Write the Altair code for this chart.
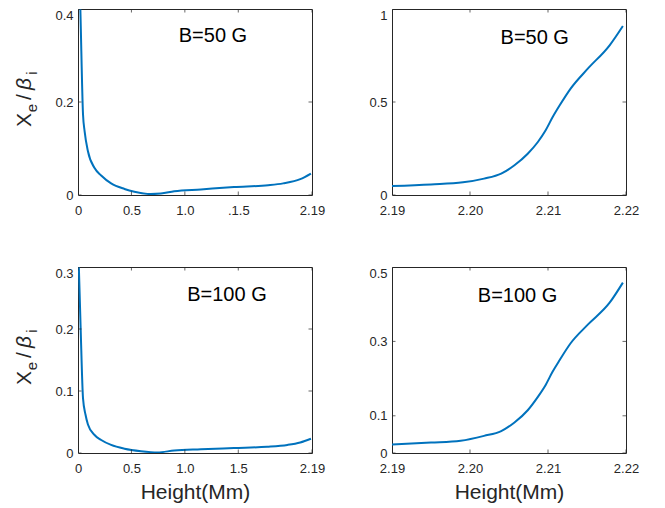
import altair as alt
import pandas as pd

# ---------------- data ----------------
# B = 50 G, full height range (Mm) and Xe/beta_i
h50_low = [0.000, 0.010, 0.022, 0.047, 0.062, 0.093, 0.155, 0.217, 0.310, 0.435,
           0.528, 0.680, 0.776, 0.900, 1.150, 1.460, 1.780, 1.920, 2.080, 2.180]
r50_low = [0.60, 0.50, 0.40, 0.173, 0.137, 0.094, 0.058, 0.042, 0.025, 0.013,
           0.007, 0.002, 0.003, 0.008, 0.012, 0.017, 0.021, 0.025, 0.034, 0.046]

# B = 50 G, upper layer 2.19-2.22 Mm
h50_high = [2.1900, 2.1950, 2.1991, 2.2018, 2.2040, 2.2057, 2.2074, 2.2087, 2.2097,
            2.2106, 2.2115, 2.2129, 2.2151, 2.2179, 2.2196]
r50_high = [0.048, 0.057, 0.068, 0.088, 0.115, 0.160, 0.222, 0.285, 0.348,
            0.419, 0.482, 0.572, 0.679, 0.805, 0.909]

# B = 100 G, full height range
h100_low = [0.000, 0.003, 0.008, 0.025, 0.047, 0.070, 0.093, 0.155, 0.217, 0.310,
            0.435, 0.590, 0.745, 0.900, 1.150, 1.460, 1.770, 1.960, 2.080, 2.180]
r100_low = [0.40, 0.33, 0.30, 0.20, 0.088, 0.062, 0.046, 0.029, 0.021, 0.013,
            0.007, 0.003, 0.001, 0.004, 0.006, 0.008, 0.010, 0.013, 0.017, 0.023]

# B = 100 G, upper layer
h100_high = [2.1900, 2.1950, 2.1988, 2.2018, 2.2040, 2.2057, 2.2074, 2.2087, 2.2097,
             2.2106, 2.2115, 2.2129, 2.2151, 2.2179, 2.2196]
r100_high = [0.023, 0.028, 0.033, 0.046, 0.059, 0.082, 0.115, 0.151, 0.183,
             0.219, 0.250, 0.295, 0.345, 0.404, 0.458]

# tick values and labels
xt_low = [0, 0.5, 1.0, 1.5, 2.19]
xl_low_top = ["0", "0.5", "1.0", ".1.5", "2.19"]
xl_low_bot = ["0", "0.5", "1.0", "1.5", "2.19"]
xt_high = [2.19, 2.20, 2.21, 2.22]
xl_high = ["2.19", "2.20", "2.21", "2.22"]
yt_tl = [0, 0.2, 0.4]
yl_tl = ["0", "0.2", "0.4"]
yt_tr = [0, 0.5, 1.0]
yl_tr = ["0", "0.5", "1"]
yt_bl = [0, 0.1, 0.2, 0.3]
yl_bl = ["0", "0.1", "0.2", "0.3"]
yt_br = [0, 0.1, 0.3, 0.5]
yl_br = ["0", "0.1", "0.3", "0.5"]

# annotation labels (text, x, y in data units)
ann_text = ["B=50 G", "B=50 G", "B=100 G", "B=100 G"]
ann_x = [1.263, 2.2083, 1.394, 2.2061]
ann_y = [0.342, 0.844, 0.255, 0.421]

# y-axis title pieces: text, size, italic, x offset, y offset (from plot corner)
yt_pieces = [("X", 21, False, -47, 111),
             ("e", 15, False, -41, 99),
             ("/", 21, False, -47, 88),
             ("\u03b2", 21, True, -47, 75),
             ("i", 15, False, -41, 64)]

FONT = "Liberation Sans, Arial, Helvetica, sans-serif"
AXC = "#262626"
BLUE = "#0072BD"
PW, PH = 234, 186


def label_expr(vals, labels):
    expr = "''"
    for v, l in zip(vals[::-1], labels[::-1]):
        expr = f"abs(datum.value - {v}) < 1e-6 ? '{l}' : ({expr})"
    return expr


def panel(h, r, xdom, xticks, xlabels, ydom, yticks, ylabels, idx, ytitle, xtitle):
    xs = alt.Scale(domain=xdom, nice=False, zero=False)
    ys = alt.Scale(domain=ydom, nice=False, zero=False)
    xaxis = alt.Axis(values=xticks, labelExpr=label_expr(xticks, xlabels),
                     ticks=False, tickSize=0, domain=False, grid=False,
                     labelFont=FONT, labelFontSize=13, labelColor=AXC,
                     labelPadding=9, labelFlush=False, labelOverlap=False,
                     labelBound=False,
                     titleFont=FONT, titleFontSize=21, titleFontWeight="normal",
                     titleColor=AXC, titlePadding=6)
    yaxis = alt.Axis(values=yticks, labelExpr=label_expr(yticks, ylabels),
                     ticks=False, tickSize=0, domain=False, grid=False,
                     labelFont=FONT, labelFontSize=13, labelColor=AXC,
                     labelPadding=5, labelFlush=False, labelOverlap=False,
                     labelBaseline={"condition": {"test": f"datum.value >= {ydom[1]} - 1e-6",
                                                  "value": "top"},
                                    "value": "middle"})
    if xtitle:
        xenc = alt.X("h:Q", scale=xs, axis=xaxis, title=xtitle)
    else:
        xenc = alt.X("h:Q", scale=xs, axis=xaxis, title=None)
    yenc = alt.Y("r:Q", scale=ys, axis=yaxis, title=None)

    line = alt.Chart(pd.DataFrame({"h": h, "r": r})).mark_line(
        color=BLUE, strokeWidth=2, clip=True, interpolate="monotone"
    ).encode(x=xenc, y=yenc)

    ytick_df = pd.DataFrame({"h": [xdom[0]] * len(yticks) + [xdom[1]] * len(yticks),
                             "r": list(yticks) * 2})
    yticks_l = alt.Chart(ytick_df).mark_tick(
        orient="horizontal", size=7, thickness=1, clip=True, color=AXC
    ).encode(x=xenc, y=yenc)

    xtick_df = pd.DataFrame({"h": list(xticks) * 2,
                             "r": [ydom[0]] * len(xticks) + [ydom[1]] * len(xticks)})
    xticks_l = alt.Chart(xtick_df).mark_tick(
        orient="vertical", size=7, thickness=1, clip=True, color=AXC
    ).encode(x=xenc, y=yenc)

    ann = alt.Chart(pd.DataFrame({"h": [ann_x[idx]], "r": [ann_y[idx]],
                                  "t": [ann_text[idx]]})).mark_text(
        font=FONT, fontSize=20, color="black", align="center", baseline="middle"
    ).encode(x=xenc, y=yenc, text="t:N")

    layers = [line, yticks_l, xticks_l, ann]
    if ytitle:
        for txt, fs, it, px, py in yt_pieces:
            kw = dict(font=FONT, fontSize=fs, color=AXC, angle=270,
                      align="center", baseline="alphabetic")
            if it:
                kw["fontStyle"] = "italic"
            layers.append(
                alt.Chart(pd.DataFrame({"t": [txt]})).mark_text(**kw).encode(
                    text="t:N", x=alt.value(px), y=alt.value(py))
            )
    return alt.layer(*layers).properties(width=PW, height=PH)


tl = panel(h50_low, r50_low, [0, 2.19], xt_low, xl_low_top, [0, 0.4], yt_tl, yl_tl, 0, True, None)
tr = panel(h50_high, r50_high, [2.19, 2.22], xt_high, xl_high, [0, 1.0], yt_tr, yl_tr, 1, False, None)
bl = panel(h100_low, r100_low, [0, 2.19], xt_low, xl_low_bot, [0, 0.3], yt_bl, yl_bl, 2, True, "Height(Mm)")
br = panel(h100_high, r100_high, [2.19, 2.22], xt_high, xl_high, [0, 0.5], yt_br, yl_br, 3, False, "Height(Mm)")

chart = alt.concat(tl, tr, bl, br, columns=2,
                   spacing={"row": 72, "column": 80}, bounds="flush").configure_view(
    stroke=AXC, strokeWidth=1
).properties(padding={"left": 5, "top": 0, "right": 5, "bottom": 0}, background="white")

chart.save("out.html", embed_options={"renderer": "svg", "actions": False})
